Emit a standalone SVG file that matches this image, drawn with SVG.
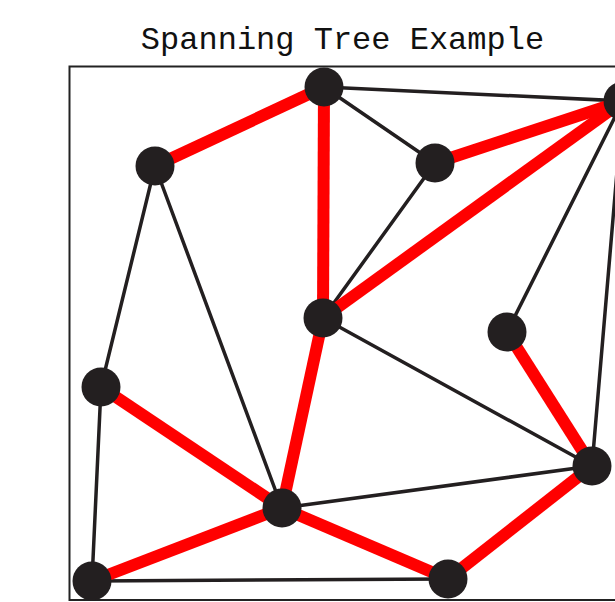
<svg xmlns="http://www.w3.org/2000/svg" width="615" height="602" viewBox="0 0 615 602">
<style>
.title{font-family:"Liberation Mono","Courier New",monospace;font-size:32px;fill:#111;}
.frame{fill:none;stroke:#222;stroke-width:2;}
.e{stroke:#231f20;stroke-width:3.5;stroke-linecap:round;fill:none;}
.t{stroke:#ff0000;stroke-width:12;stroke-linecap:butt;fill:none;}
.n{fill:#231f20;}
</style>
<rect width="615" height="602" fill="#ffffff"/>
<text class="title" x="342.5" y="49" text-anchor="middle">Spanning Tree Example</text>
<rect class="frame" x="69.5" y="66.5" width="600" height="533.5"/>
<g id="connectors">
<line class="e" x1="324" y1="87" x2="623" y2="101"/>
<line class="e" x1="324" y1="87" x2="435" y2="163"/>
<line class="e" x1="155" y1="166" x2="282" y2="508"/>
<line class="e" x1="155" y1="166" x2="101" y2="387"/>
<line class="e" x1="435" y1="163" x2="323" y2="318"/>
<line class="e" x1="623" y1="101" x2="507" y2="332"/>
<line class="e" x1="623" y1="101" x2="592" y2="466"/>
<line class="e" x1="323" y1="318" x2="592" y2="466"/>
<line class="e" x1="101" y1="387" x2="92" y2="581"/>
<line class="e" x1="282" y1="508" x2="592" y2="466"/>
<line class="e" x1="92" y1="581" x2="448" y2="579"/>
<line class="t" x1="324" y1="87" x2="155" y2="166"/>
<line class="t" x1="324" y1="87" x2="323" y2="318"/>
<line class="t" x1="435" y1="163" x2="623" y2="101"/>
<line class="t" x1="323" y1="318" x2="623" y2="101"/>
<line class="t" x1="323" y1="318" x2="282" y2="508"/>
<line class="t" x1="101" y1="387" x2="282" y2="508"/>
<line class="t" x1="282" y1="508" x2="92" y2="581"/>
<line class="t" x1="282" y1="508" x2="448" y2="579"/>
<line class="t" x1="448" y1="579" x2="592" y2="466"/>
<line class="t" x1="507" y1="332" x2="592" y2="466"/>
</g>
<g id="nA"><circle class="n" cx="324" cy="87" r="19.5"/></g>
<g id="nB"><circle class="n" cx="155" cy="166" r="19.5"/></g>
<g id="nC"><circle class="n" cx="435" cy="163" r="19.5"/></g>
<g id="nD"><circle class="n" cx="623" cy="101" r="19.5"/></g>
<g id="nE"><circle class="n" cx="323" cy="318" r="19.5"/></g>
<g id="nF"><circle class="n" cx="507" cy="332" r="19.5"/></g>
<g id="nG"><circle class="n" cx="101" cy="387" r="19.5"/></g>
<g id="nH"><circle class="n" cx="592" cy="466" r="19.5"/></g>
<g id="nI"><circle class="n" cx="282" cy="508" r="19.5"/></g>
<g id="nJ"><circle class="n" cx="92" cy="581" r="19.5"/></g>
<g id="nK"><circle class="n" cx="448" cy="579" r="19.5"/></g>
</svg>
